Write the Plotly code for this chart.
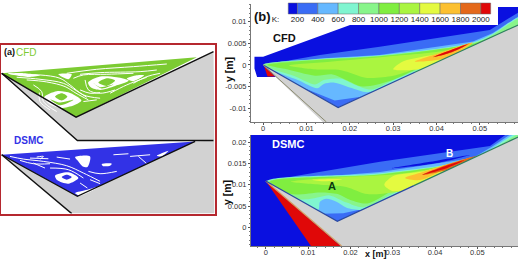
import plotly.graph_objects as go

FONT = "Liberation Sans"
W, H = 520, 260

# ---------- colour levels ----------
level_edges = [110, 200, 400, 600, 800, 1000, 1200, 1400, 1600, 1800, 2000, 2096]
level_colors = ["#0a10e0", "#3a6cf5", "#66b8ff", "#80f5d0", "#88f58a", "#80ee40",
                "#aaf540", "#e4fa40", "#fcc030", "#e4681a", "#e00808"]
level_labels = [200, 400, 600, 800, 1000, 1200, 1400, 1600, 1800, 2000]
DB, MB, SKY, CY, LG, GR, YG, YE, OR, DO, RD = level_colors
GREY = "#d2d2d2"

# ---------- panel (b) CFD, polygons in metres ----------
cfd_dark = [(-.0020, .0019), (0, .0019), (.0262, .0115), (.0300, .0134), (.0600, .0134), (.0600, .0090),
            (.0300, .0020), (.0027, -.0028), (-.0014, -.0028), (-.0020, -.0008)]
cfd_medium = [(0, 0), (.0131, .0023), (.0269, .0042), (.0523, .0081), (.0590, .0122), (.0590, .0092), (.0173, -.00985)]
cfd_sky = [(0, 0), (.0131, .0015), (.0269, .0023), (.0484, .0054), (.0530, .0074), (.0590, .0113), (.0590, .0095),
           (.0330, -.0030), (.0231, -.0073), (.0165, -.0082), (.0085, -.0050)]
cfd_cyan = [(0, 0), (.0131, .0014), (.0269, .0022), (.0484, .0052), (.0530, .0072), (.0590, .0110), (.0590, .0094),
            (.0330, -.0032), (.0280, -.0052), (.0240, -.0063), (.0200, -.0052), (.0165, -.0041), (.0140, -.0044),
            (.0125, -.0054), (.0080, -.0035)]
cfd_lgreen = [(0, 0), (.0131, .0013), (.0269, .0021), (.0484, .0050), (.0530, .0070), (.0590, .0107), (.0590, .0093),
              (.0400, .0008), (.0300, -.0035), (.0250, -.0057), (.0210, -.0045), (.0180, -.0032), (.0140, -.0035),
              (.0120, -.0045), (.0070, -.0025)]
cfd_green = [(.0010, 0), (.0131, .0012), (.0269, .0020), (.0484, .0049), (.0530, .0066), (.0460, .0035), (.0380, .0003),
             (.0290, -.0038), (.0230, -.0050), (.0190, -.0034), (.0160, -.0022), (.0120, -.0025), (.0050, -.0009)]
cfd_ygreen = [(.0060, -.0001), (.0160, .0008), (.0270, .0018), (.0400, .0030), (.0460, .0040), (.0430, .0018),
              (.0350, -.0010), (.0300, -.0025), (.0240, -.0030), (.0180, -.0012), (.0120, -.0010)]
cfd_yellow = [(.0300, -.0010), (.0320, .0007), (.0380, .0021), (.0450, .0036), (.0470, .0042), (.0420, .0010), (.0360, -.0010)]
cfd_orange = [(.0350, .0008), (.0392, .0023), (.0484, .0052), (.0424, .0016)]
cfd_dorange = [(.0392, .0018), (.0477, .0050), (.0438, .0030)]
cfd_red = [(.0395, .0019), (.0470, .0047), (.0445, .0034), (.0415, .0023)]
cfd_hot = [(.0002, -.0002), (.0027, -.0027), (.0010, -.0027)]
cfd_solid = [(0, 0), (.0173, -.00985), (.0596, .0096), (.0596, -.0140), (.0146, -.0140)]
cfd_cavity_line = [(0, 0), (.0173, -.00985), (.0350, -.0017)]
cfd_wall_line = [(.0350, -.0017), (.0596, .0096)]
cfd_left_line = [(0, 0), (.0146, -.0132)]

# ---------- panel (b) DSMC, polygons in metres ----------
dsmc_dark = [(-.0040, -.0050), (-.0040, .0220), (.0600, .0220), (.0600, -.0050)]
dsmc_medium = [(0, .0109), (.0270, .0154), (.0530, .0191), (.0570, .0220), (.0600, .0220), (.0600, .0212), (.0169, .0014)]
dsmc_streak = [(.0298, .0139), (.0400, .0156), (.0482, .0170), (.0400, .0150)]
dsmc_sky = [(0, .0109), (.0270, .0130), (.0489, .0163), (.0535, .0190), (.0580, .0220), (.0600, .0220), (.0600, .0212),
            (.0301, .0078), (.0238, .0045), (.0183, .0033), (.0130, .0032), (.0075, .0058)]
dsmc_cyan = [(.0003, .0108), (.0270, .0127), (.0489, .0160), (.0535, .0186), (.0590, .0220), (.0600, .0220), (.0600, .0212),
             (.0310, .0080), (.0265, .0056), (.0229, .0041), (.0191, .0046), (.0167, .0060), (.0143, .0067),
             (.0128, .0060), (.0124, .0041), (.0075, .0062)]
dsmc_lgreen = [(.0006, .0107), (.0270, .0125), (.0489, .0158), (.0535, .0182), (.0600, .0220), (.0600, .0212),
               (.0400, .0125), (.0310, .0084), (.0229, .0047), (.0191, .0058), (.0151, .0075), (.0128, .0071),
               (.0100, .0066), (.0057, .0069)]
dsmc_green = [(.0010, .0107), (.0270, .0124), (.0489, .0157), (.0530, .0176), (.0400, .0125), (.0310, .0092),
              (.0240, .0056), (.0200, .0064), (.0170, .0078), (.0130, .0082), (.0060, .0078)]
dsmc_ygreen = [(.0060, .0107), (.0180, .0118), (.0300, .0124), (.0420, .0142), (.0480, .0156), (.0430, .0125),
               (.0340, .0088), (.0300, .0082), (.0240, .0078), (.0190, .0095), (.0130, .0100)]
dsmc_yellow1 = [(.0110, .0112), (.0140, .0113), (.0180, .0113), (.0140, .0108)]
dsmc_yellow2 = [(.0280, .0100), (.0300, .0120), (.0370, .0131), (.0450, .0150), (.0440, .0125), (.0360, .0095), (.0300, .0085)]
dsmc_orange = [(.0329, .0116), (.0371, .0130), (.0489, .0165), (.0428, .0139), (.0364, .0111)]
dsmc_dorange = [(.0369, .0123), (.0428, .0147), (.0496, .0167), (.0442, .0139)]
dsmc_red = [(.0372, .0124), (.0428, .0145), (.0470, .0158), (.0430, .0140)]
dsmc_solid = [(0, .0109), (.0169, .0014), (.0600, .0214), (.0600, -.0050), (.0185, -.0050)]
dsmc_hot = [(0, .0109), (.0179, -.0046), (.0108, -.0046)]
dsmc_hot_edge = [(0, .0109), (.0179, -.0044)]
dsmc_cavity_line = [(0, .0109), (.0169, .0014), (.0350, .0098)]
dsmc_wall_line = [(.0350, .0098), (.0600, .0214)]

# ---------- panel (a), traced in picture units ----------
a_solid_top = [(5, 100), (228, 232), (640, 35), (643, 302), (232, 302)]
a_flow_top = [(5, 100), (590, 52), (228, 232)]
a_solid_bottom = [(5, 345), (232, 470), (585, 305), (643, 302), (643, 522), (215, 522)]
a_flow_bottom = [(5, 345), (585, 305), (232, 470)]
a_wall_lines = [
    [(5, 100), (232, 302), (640, 302)],
    [(5, 100), (228, 232), (640, 35)],
    [(5, 345), (215, 522)],
    [(5, 345), (232, 470), (585, 305)],
]
a_top_white_areas = [
    [(132, 172), (170, 154), (212, 160), (244, 182), (222, 196), (180, 204), (145, 190)],
    [(264, 128), (300, 110), (350, 112), (386, 122), (345, 138), (300, 150), (272, 142)],
    [(380, 116), (410, 106), (432, 106), (398, 124)],
    [(25, 101), (60, 99), (120, 106), (90, 111)],
    [(175, 103), (215, 103), (205, 118)],
]
a_top_green_eyes = [
    [(165, 170), (185, 160), (202, 170), (185, 182)],
    [(295, 128), (320, 115), (345, 122), (320, 138)],
    [(150, 178), (180, 188), (220, 180), (180, 196)],
    [(278, 128), (300, 142), (340, 134), (305, 146)],
]
a_top_white_lines = [
    [(25, 100), (60, 105), (120, 105), (180, 115), (210, 135), (250, 165), (300, 175)],
    [(50, 112), (120, 118), (190, 130), (225, 150), (260, 172)],
    [(80, 120), (140, 126), (195, 140), (228, 160), (265, 180)],
    [(240, 103), (300, 98), (420, 95), (470, 90)],
    [(220, 115), (250, 105), (320, 103), (400, 100)],
    [(200, 100), (290, 88), (400, 80), (500, 72)],
    [(255, 120), (265, 150), (300, 160), (345, 150)],
    [(240, 150), (270, 160), (300, 158)],
    [(250, 185), (290, 180)],
    [(100, 135), (125, 155), (130, 185), (170, 215)],
    [(118, 158), (120, 185), (150, 210)],
    [(400, 130), (440, 110), (480, 100)],
    [(330, 160), (380, 135), (440, 112)],
]
a_bottom_white_areas = [
    [(165, 408), (205, 398), (235, 415), (205, 432), (172, 422)],
    [(225, 352), (270, 350), (262, 382), (248, 380), (235, 365)],
    [(225, 460), (240, 468), (300, 440), (262, 450)],
    [(305, 373), (335, 372), (330, 378), (308, 379)],
    [(470, 348), (505, 333), (485, 350)],
]
a_bottom_blue_eyes = [
    [(185, 412), (200, 405), (215, 412), (200, 420)],
]
a_bottom_white_lines = [
    [(30, 350), (70, 358), (130, 365), (200, 378), (250, 400), (300, 425)],
    [(90, 355), (145, 357)],
    [(100, 370), (135, 385)],
    [(170, 352), (210, 358)],
    [(390, 350), (450, 345)],
    [(415, 350), (440, 372)],
    [(265, 395), (300, 402), (350, 395)],
    [(270, 420), (300, 432)],
    [(240, 430), (262, 445)],
    [(150, 385), (205, 390), (250, 415)],
    [(60, 362), (100, 372), (150, 372)],
    [(110, 352), (130, 350), (120, 358)],
    [(340, 345), (385, 342)],
]

fig = go.Figure()


def poly(pts, color, ax, line=None, width=0, smooth=False):
    xs = [p[0] for p in pts] + [pts[0][0]]
    ys = [p[1] for p in pts] + [pts[0][1]]
    ln = dict(color=line or color, width=width)
    if smooth:
        ln.update(shape="spline", smoothing=0.8)
    fig.add_trace(go.Scatter(x=xs, y=ys, mode="lines", fill="toself", fillcolor=color,
                             line=ln, hoverinfo="skip",
                             showlegend=False, xaxis="x" + ax, yaxis="y" + ax))


def path(pts, color, ax, width, smooth=False):
    ln = dict(color=color, width=width)
    if smooth:
        ln.update(shape="spline", smoothing=1)
    fig.add_trace(go.Scatter(x=[p[0] for p in pts], y=[p[1] for p in pts], mode="lines",
                             line=ln, hoverinfo="skip",
                             showlegend=False, xaxis="x" + ax, yaxis="y" + ax))


# panel (a)
GA, BA = "#7ccb32", "#3232e6"
poly(a_solid_top, GREY, "")
poly(a_solid_bottom, GREY, "")
poly(a_flow_top, GA, "")
poly(a_flow_bottom, BA, "")
for p in a_top_white_areas:
    poly(p, "white", "", smooth=True)
for p in a_top_green_eyes:
    poly(p, GA, "", smooth=True)
for p in a_top_white_lines:
    path(p, "white", "", 1, smooth=True)
for p in a_bottom_white_areas:
    poly(p, "white", "", smooth=True)
for p in a_bottom_blue_eyes:
    poly(p, BA, "", smooth=True)
for p in a_bottom_white_lines:
    path(p, "white", "", 1, smooth=True)
for p in a_wall_lines:
    path(p, "#101010", "", 1.4)

# panel (b) CFD
for p, c, sm in [(cfd_dark, DB, False), (cfd_medium, MB, False), (cfd_sky, SKY, False), (cfd_cyan, CY, True),
                 (cfd_lgreen, LG, True), (cfd_green, GR, True), (cfd_ygreen, YG, True), (cfd_yellow, YE, True),
                 (cfd_orange, OR, True), (cfd_dorange, DO, True), (cfd_red, RD, True), (cfd_hot, RD, False),
                 (cfd_solid, GREY, False)]:
    poly(p, c, "2", smooth=sm)
path(cfd_cavity_line, "#2a4aa0", "2", 1.2)
path(cfd_wall_line, "#2f7f60", "2", 1.2)
path(cfd_left_line, "#8a8a70", "2", 1)

# panel (b) DSMC
for p, c, sm in [(dsmc_dark, DB, False), (dsmc_medium, MB, False), (dsmc_streak, DB, True), (dsmc_sky, SKY, False),
                 (dsmc_cyan, CY, True), (dsmc_lgreen, LG, True), (dsmc_green, GR, True), (dsmc_ygreen, YG, True),
                 (dsmc_yellow1, YE, True), (dsmc_yellow2, YE, True), (dsmc_orange, OR, True), (dsmc_dorange, DO, True),
                 (dsmc_red, RD, True), (dsmc_solid, GREY, False), (dsmc_hot, RD, False)]:
    poly(p, c, "3", smooth=sm)
path(dsmc_hot_edge, "#d8a060", "3", 1.2)
path(dsmc_cavity_line, "#2a4aa0", "3", 1.2)
path(dsmc_wall_line, "#2f7f60", "3", 1.2)

# legend
poly([(-79, 0), (2168, 0), (2168, 1), (-79, 1)], "white", "4")
for a, b, c in zip(level_edges[:-1], level_edges[1:], level_colors):
    poly([(a, .458), (b, .458), (b, .917), (a, .917)], c, "4", line="#666666", width=0.5)
fig.add_trace(go.Scatter(x=level_labels, y=[.2] * len(level_labels), mode="text",
                         text=[str(v) for v in level_labels], hoverinfo="skip", showlegend=False,
                         textfont=dict(family=FONT, size=8, color="#222222"), xaxis="x4", yaxis="y4"))
fig.add_trace(go.Scatter(x=[-15], y=[.2], mode="text", text=["K:"], hoverinfo="skip", showlegend=False,
                         textfont=dict(family=FONT, size=8, color="#222222"), xaxis="x4", yaxis="y4"))


def dom(a, b, total):
    return [a / total, b / total]


def ydom(top, bottom):
    return [1 - bottom / H, 1 - top / H]


tick_font = dict(family=FONT, size=7.5, color="#333333")
common = dict(showgrid=False, zeroline=False, showline=True, linecolor="#777777", linewidth=1,
              ticks="outside", ticklen=2, tickcolor="#555555", tickwidth=1, tickfont=tick_font)
hidden = dict(showgrid=False, zeroline=False, showticklabels=False, ticks="")

fig.update_layout(
    width=W, height=H, margin=dict(l=0, r=0, t=0, b=0), paper_bgcolor="white", plot_bgcolor="white",
    showlegend=False, font=dict(family=FONT),
    xaxis=dict(domain=dom(1, 214.5, W), range=[3, 643], showline=True, mirror=True,
               linecolor="#b5282f", linewidth=2, **hidden),
    yaxis=dict(domain=ydom(44.7, 213.6), range=[522, 14], showline=True, mirror=True,
               linecolor="#b5282f", linewidth=2, **hidden),
    xaxis2=dict(domain=dom(251, 518, W), range=[-.0028, .0588], anchor="y2", ticklabelstandoff=-3,
                tickvals=[0, .01, .02, .03, .04, .05], ticktext=["0", "0.01", "0.02", "0.03", "0.04", "0.05"],
                minor=dict(ticks="outside", ticklen=1, dtick=.002, tickcolor="#777777"), **common),
    yaxis2=dict(domain=ydom(4, 122), range=[-.0132, .0141], anchor="x2",
                tickvals=[-.01, -.005, 0, .005, .01], ticktext=["-0.01", "-0.005", "0", "0.005", "0.01"],
                minor=dict(ticks="outside", ticklen=1, dtick=.001, tickcolor="#777777"), **common),
    xaxis3=dict(domain=dom(251, 518, W), range=[-.0035, .0596], anchor="y3", ticklabelstandoff=-3,
                tickvals=[0, .01, .02, .03, .04, .05], ticktext=["0", "0.01", "0.02", "0.03", "0.04", "0.05"],
                minor=dict(ticks="outside", ticklen=1, dtick=.002, tickcolor="#777777"), **common),
    yaxis3=dict(domain=ydom(135, 246), range=[-.0044, .0217], anchor="x3",
                tickvals=[0, .005, .01, .015, .02], ticktext=["0", "0.005", "0.01", "0.015", "0.02"],
                minor=dict(ticks="outside", ticklen=1, dtick=.001, tickcolor="#777777"), **common),
    xaxis4=dict(domain=dom(269, 498, W), range=[-79, 2168], anchor="y4", **hidden),
    yaxis4=dict(domain=ydom(1, 25), range=[0, 1], anchor="x4", **hidden),
)


def label(text, px, py, size, color="#111111", bold=True, angle=0):
    fig.add_annotation(text=f"<b>{text}</b>" if bold else text, x=px / W, y=1 - py / H,
                       xref="paper", yref="paper", showarrow=False, textangle=angle,
                       xanchor="center", yanchor="middle",
                       font=dict(family=FONT, size=size, color=color))


label("(a)", 9, 52, 9)
label("CFD", 26, 53, 10, color="#7ccb32", bold=False)
label("DSMC", 28, 140, 10, color="#3232e6")
label("(b)", 262, 16, 13)
label("CFD", 284, 38, 11)
label("DSMC", 288, 144, 11, color="white")
label("A", 332, 186, 11, color="#0a3a10")
label("B", 449, 153, 10, color="white")
label("y [m]", 229, 70, 10.5, angle=-90)
label("y [m]", 227, 193, 10.5, angle=-90)
label("x [m]", 376, 254, 9)

fig.write_html("out.html", config={"displayModeBar": False}, post_script="document.body.style.margin='0';")
